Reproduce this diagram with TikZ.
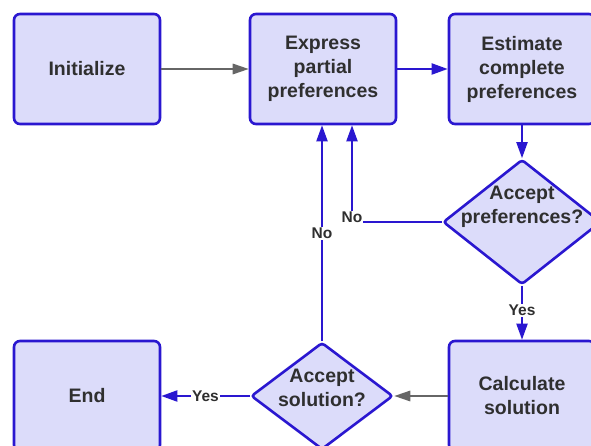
\documentclass[tikz,border=0pt]{standalone}
\usepackage{fontspec}
\setmainfont{Liberation Sans}
\usetikzlibrary{shapes.geometric,arrows.meta}
\definecolor{bordblue}{HTML}{2A17D0}
\definecolor{boxfill}{HTML}{DCDCFA}
\definecolor{txtgray}{HTML}{2F2F2F}
\definecolor{arrgray}{HTML}{666666}
\tikzset{
  x=1pt,y=-1pt,
  procbox/.style={draw=bordblue, fill=boxfill, line width=2.6pt, rounded corners=6pt,
    minimum width=146pt, minimum height=110pt, inner sep=0pt,
    text=txtgray, align=center, font=\fontsize{19.5}{24}\selectfont\bfseries},
  decbox/.style={diamond, draw=bordblue, fill=boxfill, line width=2.6pt, rounded corners=3pt,
    inner sep=0pt},
  dectext/.style={text=txtgray, align=center, font=\fontsize{19.5}{23.5}\selectfont\bfseries, inner sep=0pt},
  bluearr/.style={draw=bordblue, line width=2pt, -{Triangle[length=16pt,width=11pt]}},
  grayarr/.style={draw=arrgray, line width=1.6pt, -{Triangle[length=16pt,width=10.5pt]}},
  lbl/.style={fill=white, text=txtgray, inner sep=1pt, font=\fontsize{15.5}{15.5}\selectfont\bfseries},
}
\begin{document}
\begin{tikzpicture}
\useasboundingbox (0,0) rectangle (591,446);
\node[procbox] (init) at (87,69) {Initialize};
\node[procbox] (express) at (323,69) {Express\\partial\\preferences};
\node[procbox] (estimate) at (522,69) {Estimate\\complete\\preferences};
\node[decbox, minimum width=158pt, minimum height=125pt] (dec1) at (522,222) {};
\node[dectext] (dec1t) at (522,207) {Accept\\preferences?};
\node[procbox] (calc) at (522,396) {Calculate\\solution};
\node[decbox, minimum width=142pt, minimum height=107pt] (dec2) at (322,396) {};
\node[dectext] (dec2t) at (322,388) {Accept\\solution?};
\node[procbox] (end) at (87,396) {End};
\coordinate (c1) at (352,222);
\draw[grayarr] (init.east) -- (express.west);
\draw[bluearr] (express.east) -- (estimate.west);
\draw[bluearr] (estimate.south) -- (dec1.north);
\draw[bluearr] (dec1.west) -- (c1) node[lbl, pos=1, yshift=5pt] {No} -- (c1 |- express.south);
\draw[bluearr] (dec1.south) -- node[lbl, pos=0.46] {Yes} (calc.north);
\draw[grayarr] (calc.west) -- (dec2.east);
\draw[bluearr] (dec2.north) -- node[lbl, pos=0.5] {No} (dec2.north |- express.south);
\draw[bluearr] (dec2.west) -- node[lbl, pos=0.5] {Yes} (end.east);
\end{tikzpicture}
\end{document}
